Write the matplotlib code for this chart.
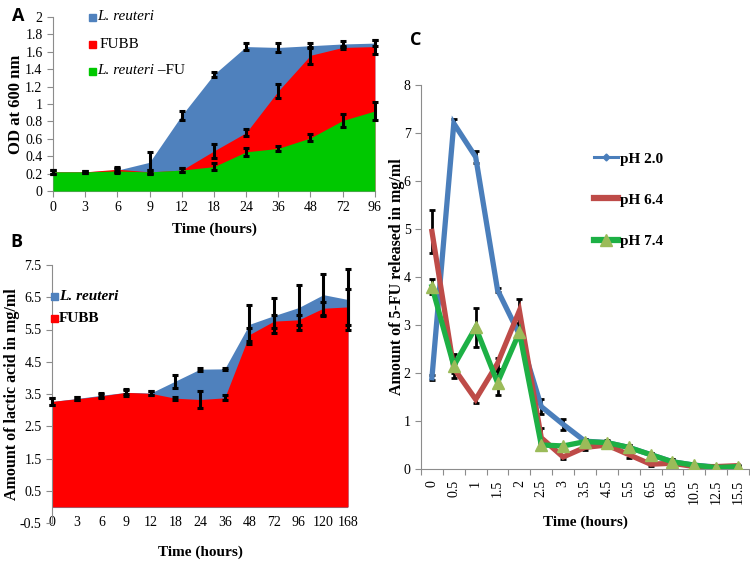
import matplotlib
matplotlib.use("Agg")
import matplotlib.pyplot as plt
from matplotlib.lines import Line2D
import numpy as np

# ---------------- Panel A data ----------------
a_times = ["0", "3", "6", "9", "12", "18", "24", "36", "48", "72", "96"]
a_reuteri = [0.22, 0.22, 0.24, 0.33, 0.87, 1.34, 1.66, 1.65, 1.67, 1.69, 1.70]
a_reuteri_err = [0.02, 0.01, 0.02, 0.12, 0.05, 0.03, 0.04, 0.05, 0.03, 0.03, 0.03]
a_fubb = [0.22, 0.22, 0.25, 0.22, 0.24, 0.46, 0.67, 1.15, 1.56, 1.65, 1.66]
a_fubb_err = [0.02, 0.01, 0.03, 0.02, 0.02, 0.08, 0.04, 0.08, 0.10, 0.02, 0.08]
a_fu = [0.22, 0.22, 0.23, 0.22, 0.24, 0.28, 0.45, 0.49, 0.61, 0.81, 0.92]
a_fu_err = [0.02, 0.01, 0.02, 0.02, 0.02, 0.04, 0.05, 0.03, 0.04, 0.08, 0.10]

# ---------------- Panel B data ----------------
b_times = ["0", "3", "6", "9", "12", "18", "24", "36", "48", "72", "96", "120", "168"]
b_reuteri = [3.27, 3.36, 3.46, 3.55, 3.53, 3.90, 4.27, 4.28, 5.66, 5.93, 6.18, 6.58, 6.43]
b_reuteri_err = [0.10, 0.05, 0.06, 0.06, 0.06, 0.20, 0.05, 0.04, 0.60, 0.55, 0.70, 0.65, 0.95]
b_fubb = [3.27, 3.35, 3.44, 3.55, 3.52, 3.37, 3.33, 3.38, 5.34, 5.76, 5.80, 6.16, 6.20]
b_fubb_err = [0.10, 0.05, 0.06, 0.10, 0.06, 0.05, 0.25, 0.08, 0.20, 0.20, 0.15, 0.20, 0.55]

# ---------------- Panel C data ----------------
c_times = ["0", "0.5", "1", "1.5", "2", "2.5", "3", "3.5", "4.5", "5.5", "6.5", "8.5", "10.5", "12.5", "15.5"]
c_ph20 = [1.90, 7.20, 6.50, 3.73, 2.80, 1.30, 0.93, 0.58, 0.55, 0.45, 0.30, 0.15, 0.08, 0.04, 0.05]
c_ph20_err = [0.05, 0.10, 0.12, 0.05, 0.05, 0.15, 0.12, 0.05, 0.04, 0.05, 0.03, 0.05, 0.03, 0.03, 0.02]
c_ph64 = [4.95, 2.10, 1.45, 2.20, 3.30, 0.65, 0.25, 0.45, 0.50, 0.30, 0.10, 0.12, 0.05, 0.05, 0.07]
c_ph64_err = [0.45, 0.10, 0.08, 0.12, 0.25, 0.20, 0.05, 0.05, 0.05, 0.08, 0.03, 0.05, 0.02, 0.03, 0.02]
c_ph74 = [3.80, 2.15, 2.95, 1.80, 2.85, 0.50, 0.48, 0.57, 0.55, 0.45, 0.30, 0.15, 0.08, 0.03, 0.05]
c_ph74_err = [0.15, 0.25, 0.40, 0.25, 0.15, 0.05, 0.05, 0.05, 0.05, 0.05, 0.03, 0.05, 0.02, 0.02, 0.02]

SERIF = ["Liberation Serif", "DejaVu Serif"]
SANS = ["Open Sans", "DejaVu Sans"]
AXCOL = "#8c8c8c"
BLUE_FILL = "#4F81BD"
RED_FILL = "#FF0000"
GREEN_FILL = "#00C800"

fig = plt.figure(figsize=(7.5, 5.61), dpi=100)


def style_axes(ax):
    for s in ["top", "right"]:
        ax.spines[s].set_visible(False)
    for s in ["left", "bottom"]:
        ax.spines[s].set_color(AXCOL)
        ax.spines[s].set_linewidth(0.8)
    ax.tick_params(colors=AXCOL, labelcolor="black", width=0.8, length=4)
    for lab in ax.get_xticklabels() + ax.get_yticklabels():
        lab.set_fontfamily(SERIF)


# ================= Panel A =================
axA = fig.add_axes([53 / 750, 1 - 191 / 561, 322 / 750, 174 / 561])
xa = np.arange(len(a_times))
axA.fill_between(xa, 0, a_reuteri, color=BLUE_FILL, lw=0, zorder=1)
axA.fill_between(xa, 0, a_fubb, color=RED_FILL, lw=0, zorder=2)
axA.fill_between(xa, 0, a_fu, color=GREEN_FILL, lw=0, zorder=3)
for vals, errs in [(a_reuteri, a_reuteri_err), (a_fubb, a_fubb_err), (a_fu, a_fu_err)]:
    axA.errorbar(xa, vals, yerr=errs, fmt="none", ecolor="black", elinewidth=2.2,
                 capsize=2.5, capthick=2.2, zorder=5, clip_on=False)
axA.set_xlim(0, (len(a_times) - 1) * 1.0005)
axA.set_ylim(0, 2)
axA.set_yticks(np.arange(0, 2.01, 0.2))
axA.set_yticklabels(["0", "0.2", "0.4", "0.6", "0.8", "1", "1.2", "1.4", "1.6", "1.8", "2"])
axA.set_xticks(xa)
axA.set_xticklabels(a_times)
axA.tick_params(labelsize=10)
style_axes(axA)
axA.set_ylabel("OD at 600 nm", fontfamily=SERIF, fontweight="bold", fontsize=12, labelpad=1)
axA.set_xlabel("Time (hours)", fontfamily=SERIF, fontweight="bold", fontsize=11, labelpad=6)
fig.text(12 / 750, 1 - 16 / 561, "A", fontfamily=SANS, fontweight="bold", fontsize=13, va="center")

# Legend A
fig.canvas.draw()
renderer = fig.canvas.get_renderer()
legA = [("L. reuteri", "", BLUE_FILL, "italic", 17), ("FUBB", "", RED_FILL, "normal", 44),
        ("L. reuteri", " \u2013FU", GREEN_FILL, "italic", 71)]
for label, suffix, col, sty, py in legA:
    fig.patches.append(plt.Rectangle((89 / 750, 1 - (py + 4) / 561), 7 / 750, 7 / 561,
                                     transform=fig.transFigure, color=col, figure=fig))
    x0 = 97 if sty == "italic" else 100
    t = fig.text(x0 / 750, 1 - py / 561, label, fontfamily=SERIF, style=sty, fontsize=11, va="center")
    if suffix:
        ext = t.get_window_extent(renderer=renderer)
        fig.text(ext.x1 / 750, 1 - py / 561, suffix, fontfamily=SERIF, fontsize=11, va="center")

# ================= Panel B =================
axB = fig.add_axes([52 / 750, 1 - 523 / 561, 296 / 750, 258 / 561])
xb = np.arange(len(b_times))
axB.fill_between(xb, 0, b_reuteri, color=BLUE_FILL, lw=0, zorder=1)
axB.fill_between(xb, 0, b_fubb, color=RED_FILL, lw=0, zorder=2)
for vals, errs in [(b_reuteri, b_reuteri_err), (b_fubb, b_fubb_err)]:
    axB.errorbar(xb, vals, yerr=errs, fmt="none", ecolor="black", elinewidth=2.2,
                 capsize=2.5, capthick=2.2, zorder=5, clip_on=False)
axB.set_xlim(0, len(b_times) - 1)
axB.set_ylim(-0.5, 7.5)
axB.set_yticks(np.arange(-0.5, 7.51, 1.0))
axB.set_yticklabels(["-0.5", "0.5", "1.5", "2.5", "3.5", "4.5", "5.5", "6.5", "7.5"])
axB.set_xticks(xb)
axB.set_xticklabels(b_times)
axB.tick_params(labelsize=10)
style_axes(axB)
axB.spines["bottom"].set_visible(False)
axB.tick_params(axis="x", length=0, pad=-5)
axB.axhline(0, color=AXCOL, lw=0.8, zorder=0)
axB.set_ylabel("Amount of lactic acid in mg/ml", fontfamily=SERIF, fontweight="bold", fontsize=11.5, labelpad=0)
axB.set_xlabel("Time (hours)", fontfamily=SERIF, fontweight="bold", fontsize=11, labelpad=12)
fig.text(10 / 750, 1 - 242 / 561, "B", fontfamily=SANS, fontweight="bold", fontsize=13, va="center")

for label, col, sty, py in [("L. reuteri", BLUE_FILL, "italic", 296), ("FUBB", RED_FILL, "normal", 318)]:
    fig.patches.append(plt.Rectangle((51 / 750, 1 - (py + 4) / 561), 7 / 750, 7 / 561,
                                     transform=fig.transFigure, color=col, figure=fig))
    fig.text(59 / 750, 1 - py / 561, label, fontfamily=SERIF, style=sty, fontweight="bold",
             fontsize=11, va="center")

# ================= Panel C =================
axC = fig.add_axes([421 / 750, 1 - 469 / 561, 328 / 750, 384 / 561])
xc = np.arange(len(c_times))
col20, col64, col74 = "#4A7EBB", "#BE4B48", "#1DB045"
for vals, errs in [(c_ph20, c_ph20_err), (c_ph64, c_ph64_err), (c_ph74, c_ph74_err)]:
    axC.errorbar(xc, vals, yerr=errs, fmt="none", ecolor="black", elinewidth=2.0,
                 capsize=2, capthick=2, zorder=2)
axC.plot(xc, c_ph20, color=col20, lw=3.8, zorder=3, solid_joinstyle="miter")
axC.plot(xc, c_ph64, color=col64, lw=3.8, zorder=4, solid_joinstyle="miter")
axC.plot(xc, c_ph74, color=col74, lw=3.8, zorder=5, marker="^", markersize=9,
         markerfacecolor="#9BBB59", markeredgecolor="#9BBB59", solid_joinstyle="miter")
axC.set_xlim(-0.5, len(c_times) - 0.5)
axC.set_ylim(0, 8)
axC.set_yticks(np.arange(0, 9, 1))
axC.set_xticks(np.arange(-0.5, len(c_times), 1.0), minor=False)
axC.set_xticklabels([])
axC.set_xticks(xc, minor=True)
axC.set_xticklabels(c_times, minor=True, rotation=90, fontfamily=SERIF, fontsize=10)
axC.tick_params(axis="x", which="minor", length=0, pad=8)
axC.tick_params(labelsize=10)
style_axes(axC)
for lab in axC.get_xticklabels(minor=True):
    lab.set_fontfamily(SERIF)
axC.set_ylabel("Amount of 5-FU released in mg/ml", fontfamily=SERIF, fontweight="bold", fontsize=11.5, labelpad=-1)
axC.set_xlabel("Time (hours)", fontfamily=SERIF, fontweight="bold", fontsize=11, labelpad=8)
fig.text(410 / 750, 1 - 40 / 561, "C", fontfamily=SANS, fontweight="bold", fontsize=13, va="center")

handles = [
    Line2D([], [], color=col20, lw=2.2, marker="D", markersize=3.5),
    Line2D([], [], color=col64, lw=4.5),
    Line2D([], [], color=col74, lw=4.5, marker="^", markersize=8,
           markerfacecolor="#9BBB59", markeredgecolor="#9BBB59"),
]
fig.legend(handles, ["pH 2.0", "pH 6.4", "pH 7.4"], loc="center left",
           bbox_to_anchor=(580 / 750, 1 - 200 / 561), frameon=False,
           prop={"family": SERIF, "weight": "bold", "size": 11},
           handlelength=1.6, handletextpad=0.1, labelspacing=1.8)

fig.savefig("out.png", dpi=100)
